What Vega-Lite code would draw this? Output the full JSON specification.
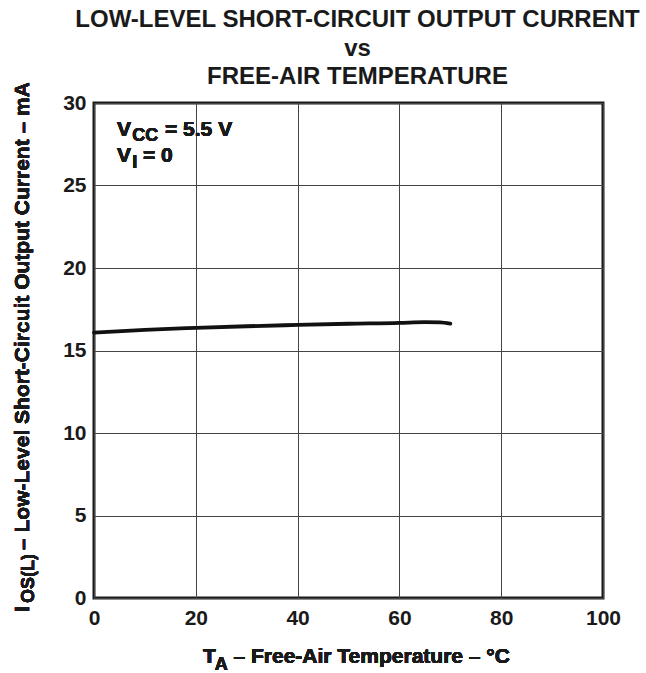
{
  "$schema": "https://vega.github.io/schema/vega-lite/v6.json",
  "width": 509,
  "height": 495,
  "autosize": {"type": "none"},
  "padding": {"left": 94, "top": 103, "right": 43, "bottom": 75},
  "background": "white",
  "title": {
    "text": ["LOW-LEVEL SHORT-CIRCUIT OUTPUT CURRENT", "vs", "FREE-AIR TEMPERATURE"],
    "font": "Liberation Sans",
    "fontWeight": "bold",
    "fontSize": 24,
    "lineHeight": 28.5,
    "color": "#1a1a1a",
    "anchor": "middle",
    "dx": 9,
    "offset": -7
  },
  "config": {
    "view": {"stroke": "#1a1a1a", "strokeWidth": 3},
    "axis": {
      "domain": false,
      "ticks": false,
      "grid": true,
      "gridColor": "#444444",
      "gridWidth": 1,
      "gridOpacity": 1,
      "labelFont": "Liberation Sans",
      "labelFontWeight": "bold",
      "labelFontSize": 21,
      "labelColor": "#1a1a1a",
      "title": null
    },
    "text": {"font": "Liberation Sans", "fontWeight": "bold", "color": "#1a1a1a", "baseline": "alphabetic", "align": "left"}
  },
  "data": {
    "values": [
      {"temp": 0, "ios": 16.08},
      {"temp": 10, "ios": 16.25},
      {"temp": 20, "ios": 16.37},
      {"temp": 30, "ios": 16.47},
      {"temp": 40, "ios": 16.55},
      {"temp": 50, "ios": 16.62},
      {"temp": 60, "ios": 16.67},
      {"temp": 65, "ios": 16.72},
      {"temp": 68, "ios": 16.7},
      {"temp": 70, "ios": 16.63}
    ]
  },
  "encoding": {
    "x": {"field": "temp", "type": "quantitative", "scale": {"domain": [0, 100], "nice": false, "zero": false},
      "axis": {"values": [0, 20, 40, 60, 80, 100], "labelPadding": 9, "labelFlush": false}},
    "y": {"field": "ios", "type": "quantitative", "scale": {"domain": [0, 30], "nice": false, "zero": false},
      "axis": {"values": [0, 5, 10, 15, 20, 25, 30], "labelPadding": 8}}
  },
  "layer": [
    {"mark": {"type": "line", "color": "#111111", "strokeWidth": 3.8, "interpolate": "monotone", "strokeCap": "round"}},
    {"mark": {"type": "text", "text": "V", "fontSize": 21}, "encoding": {"x": {"datum": 4.52}, "y": {"datum": 28.0}}},
    {"mark": {"type": "text", "text": "CC", "fontSize": 18}, "encoding": {"x": {"datum": 7.5}, "y": {"datum": 27.7}}},
    {"mark": {"type": "text", "text": "= 5.5 V", "fontSize": 21}, "encoding": {"x": {"datum": 13.95}, "y": {"datum": 28.0}}},
    {"mark": {"type": "text", "text": "V", "fontSize": 21}, "encoding": {"x": {"datum": 4.52}, "y": {"datum": 26.42}}},
    {"mark": {"type": "text", "text": "I", "fontSize": 18}, "encoding": {"x": {"datum": 7.5}, "y": {"datum": 26.06}}},
    {"mark": {"type": "text", "text": "= 0", "fontSize": 21}, "encoding": {"x": {"datum": 9.63}, "y": {"datum": 26.42}}},
    {"mark": {"type": "text", "text": "T", "fontSize": 21}, "encoding": {"x": {"datum": 21.41}, "y": {"datum": -3.94}}},
    {"mark": {"type": "text", "text": "A", "fontSize": 18}, "encoding": {"x": {"datum": 23.7}, "y": {"datum": -4.36}}},
    {"mark": {"type": "text", "text": "– Free-Air Temperature – °C", "fontSize": 21}, "encoding": {"x": {"datum": 27.4}, "y": {"datum": -3.94}}},
    {"mark": {"type": "text", "text": "I", "fontSize": 21, "angle": 270}, "encoding": {"x": {"datum": -12.7}, "y": {"datum": -0.85}}},
    {"mark": {"type": "text", "text": "OS(L)", "fontSize": 18, "angle": 270}, "encoding": {"x": {"datum": -11.7}, "y": {"datum": -0.3}}},
    {"mark": {"type": "text", "text": "– Low-Level Short-Circuit Output Current – mA", "fontSize": 21, "angle": 270}, "encoding": {"x": {"datum": -12.7}, "y": {"datum": 2.91}}}
  ]
}
